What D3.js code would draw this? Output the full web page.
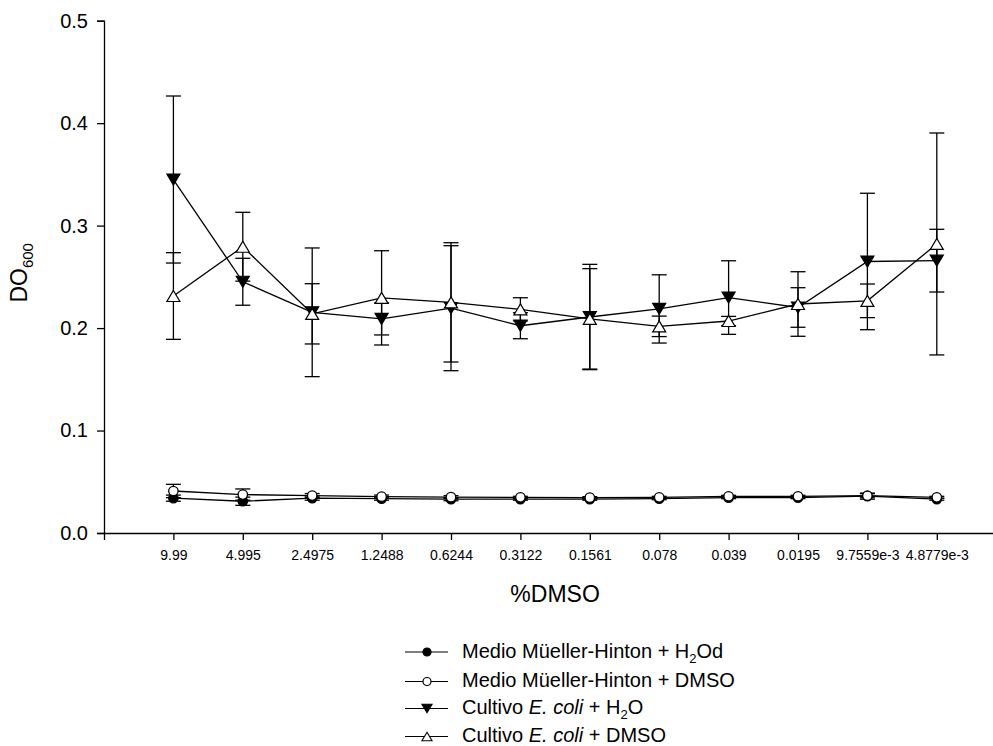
<!DOCTYPE html>
<html>
<head>
<meta charset="utf-8">
<script src="https://cdn.jsdelivr.net/npm/d3@7"></script>
<style>
  html, body { margin: 0; padding: 0; background: #fff; }
  svg { display: block; font-family: "Liberation Sans", Arial, sans-serif; }
</style>
</head>
<body>
<svg id="chart" width="993" height="746"></svg>
<script>
// %DMSO dilution series (category labels along the x axis)
const dmsoLabels = ["9.99", "4.995", "2.4975", "1.2488", "0.6244", "0.3122",
                    "0.1561", "0.078", "0.039", "0.0195", "9.7559e-3", "4.8779e-3"];

// Medio Müeller-Hinton + H2Od (filled circles)
const mhWater    = [0.034, 0.031, 0.034, 0.0335, 0.033, 0.033, 0.033, 0.0335, 0.0345, 0.0345, 0.036, 0.033];
const mhWaterErr = [0.003, 0.004, 0.002, 0.0015, 0.0015, 0.001, 0.001, 0.001, 0.001, 0.001, 0.003, 0.001];

// Medio Müeller-Hinton + DMSO (open circles)
const mhDmso     = [0.041, 0.0375, 0.0365, 0.0355, 0.035, 0.0348, 0.0345, 0.0348, 0.0358, 0.0358, 0.0364, 0.0348];
const mhDmsoErr  = [0.0065, 0.0055, 0.002, 0.0015, 0.0015, 0.001, 0.001, 0.001, 0.001, 0.001, 0.002, 0.001];

// Cultivo E. coli + H2O (filled down triangles)
const ecWater    = [0.345, 0.2452, 0.2154, 0.2089, 0.2194, 0.2023, 0.2108, 0.2187, 0.2298, 0.2201, 0.265, 0.2658];
const ecWaterErr = [0.0815, 0.0229, 0.0628, 0.0156, 0.061, 0.0127, 0.0514, 0.0333, 0.0359, 0.0193, 0.0666, 0.0306];

// Cultivo E. coli + DMSO (open up triangles)
const ecDmso     = [0.2313, 0.2794, 0.2139, 0.2295, 0.2251, 0.2183, 0.209, 0.2017, 0.2069, 0.2235, 0.2266, 0.2821];
const ecDmsoErr  = [0.0423, 0.0336, 0.0294, 0.046, 0.0582, 0.0113, 0.049, 0.01, 0.0045, 0.0315, 0.0164, 0.1083];

const yTicks = [0, 0.1, 0.2, 0.3, 0.4, 0.5];

const svg = d3.select("#chart");

// category positions 1..12; the axis runs from 0 to 13 category steps
const x = d3.scaleLinear().domain([0, 13]).range([104, 1006.2]);
const y = d3.scaleLinear().domain([0, 0.5]).range([533, 20.7]);

// ---- axes ----
const yAxis = d3.axisLeft(y)
  .tickValues(yTicks)
  .tickFormat(d3.format(".1f"))
  .tickSizeOuter(0)
  .tickSize(7)
  .tickPadding(9);

const gy = svg.append("g").attr("transform", `translate(${x(0)},0)`).call(yAxis);
gy.select(".domain").attr("stroke", "#000").attr("stroke-width", 1.3);
gy.selectAll(".tick line").attr("stroke", "#000").attr("stroke-width", 1.3);
gy.selectAll(".tick text")
  .attr("fill", "#000")
  .style("font-size", "20px")
  .style("font-family", "'Liberation Sans', Arial, sans-serif");

const xAxis = d3.axisBottom(x)
  .tickValues(d3.range(1, dmsoLabels.length + 1))
  .tickFormat(i => dmsoLabels[i - 1])
  .tickSizeOuter(0)
  .tickSize(7)
  .tickPadding(10);

const gx = svg.append("g").attr("transform", `translate(0,${y(0)})`).call(xAxis);
gx.select(".domain").attr("stroke", "#000").attr("stroke-width", 1.3);
gx.selectAll(".tick line").attr("stroke", "#000").attr("stroke-width", 1.3);
gx.selectAll(".tick text")
  .attr("fill", "#000")
  .style("font-size", "14px")
  .style("font-family", "'Liberation Sans', Arial, sans-serif");

// axis titles, centred on their axes
svg.append("text")
  .attr("x", (x.range()[0] + x.range()[1]) / 2).attr("y", 602)
  .attr("text-anchor", "middle")
  .style("font-size", "23px")
  .text("%DMSO");

const yTitle = svg.append("text")
  .attr("transform", `translate(27,${(y.range()[0] + y.range()[1]) / 2 - 4}) rotate(-90)`)
  .attr("text-anchor", "middle")
  .style("font-size", "23px");
yTitle.append("tspan").text("DO");
yTitle.append("tspan").attr("dy", 6).style("font-size", "15px").text("600");

// ---- marker shapes ----
function markerPath(kind, s) {
  s = s || 1;
  if (kind === "up")   return `M0,${-5.5*s}L${6.5*s},${5.5*s}L${-6.5*s},${5.5*s}Z`;
  if (kind === "down") return `M${-6.5*s},${-5.5*s}L${6.5*s},${-5.5*s}L0,${5.5*s}Z`;
  return null;
}

const series = [
  { name: "mhWater", values: mhWater, err: mhWaterErr, kind: "circle", fill: "#000" },
  { name: "mhDmso",  values: mhDmso,  err: mhDmsoErr,  kind: "circle", fill: "#fff" },
  { name: "ecWater", values: ecWater, err: ecWaterErr, kind: "down",   fill: "#000" },
  { name: "ecDmso",  values: ecDmso,  err: ecDmsoErr,  kind: "up",     fill: "#fff" }
];

const line = d3.line().x((d, i) => x(i + 1)).y(d => y(d));
const capHalf = 7.5;

series.forEach(s => {
  const g = svg.append("g").attr("class", s.name);

  // error bars
  const eb = g.selectAll(".err").data(s.values).enter().append("g").attr("class", "err");
  eb.append("line")
    .attr("x1", (d, i) => x(i + 1)).attr("x2", (d, i) => x(i + 1))
    .attr("y1", (d, i) => y(d + s.err[i])).attr("y2", (d, i) => y(d - s.err[i]))
    .attr("stroke", "#000").attr("stroke-width", 1.3);
  eb.append("line")
    .attr("x1", (d, i) => x(i + 1) - capHalf).attr("x2", (d, i) => x(i + 1) + capHalf)
    .attr("y1", (d, i) => y(d + s.err[i])).attr("y2", (d, i) => y(d + s.err[i]))
    .attr("stroke", "#000").attr("stroke-width", 1.3);
  eb.append("line")
    .attr("x1", (d, i) => x(i + 1) - capHalf).attr("x2", (d, i) => x(i + 1) + capHalf)
    .attr("y1", (d, i) => y(d - s.err[i])).attr("y2", (d, i) => y(d - s.err[i]))
    .attr("stroke", "#000").attr("stroke-width", 1.3);

  // connecting line
  g.append("path")
    .datum(s.values)
    .attr("d", line)
    .attr("fill", "none")
    .attr("stroke", "#000")
    .attr("stroke-width", 1.3);

  // markers
  if (s.kind === "circle") {
    g.selectAll(".pt").data(s.values).enter().append("circle")
      .attr("cx", (d, i) => x(i + 1)).attr("cy", d => y(d))
      .attr("r", 4.7)
      .attr("fill", s.fill).attr("stroke", "#000").attr("stroke-width", 1.3);
  } else {
    g.selectAll(".pt").data(s.values).enter().append("path")
      .attr("transform", (d, i) => `translate(${x(i + 1)},${y(d)})`)
      .attr("d", markerPath(s.kind))
      .attr("fill", s.fill).attr("stroke", "#000").attr("stroke-width", 1.2);
  }
});

// ---- legend ----
const legendRows = [
  { kind: "circle", fill: "#000", ly: 652,   ty: 657.5 },
  { kind: "circle", fill: "#fff", ly: 681.5, ty: 687 },
  { kind: "down",   fill: "#000", ly: 708.5, ty: 714 },
  { kind: "up",     fill: "#fff", ly: 736.5, ty: 742 }
];

const lg = svg.append("g").attr("class", "legend").style("font-size", "20px");

legendRows.forEach((r, k) => {
  lg.append("line")
    .attr("x1", 405).attr("x2", 448).attr("y1", r.ly).attr("y2", r.ly)
    .attr("stroke", "#000").attr("stroke-width", 1.2);
  if (r.kind === "circle") {
    lg.append("circle").attr("cx", 427).attr("cy", r.ly).attr("r", 4)
      .attr("fill", r.fill).attr("stroke", "#000").attr("stroke-width", 1.2);
  } else {
    lg.append("path").attr("transform", `translate(427,${r.ly})`)
      .attr("d", markerPath(r.kind, 0.78))
      .attr("fill", r.fill).attr("stroke", "#000").attr("stroke-width", 1.1);
  }
  const t = lg.append("text").attr("x", 462).attr("y", r.ty);
  if (k === 0) {
    t.append("tspan").text("Medio Müeller-Hinton + H");
    t.append("tspan").attr("dy", 5).style("font-size", "13px").text("2");
    t.append("tspan").attr("dy", -5).text("Od");
  } else if (k === 1) {
    t.append("tspan").text("Medio Müeller-Hinton + DMSO");
  } else if (k === 2) {
    t.append("tspan").text("Cultivo ");
    t.append("tspan").style("font-style", "italic").text("E. coli");
    t.append("tspan").text(" + H");
    t.append("tspan").attr("dy", 5).style("font-size", "13px").text("2");
    t.append("tspan").attr("dy", -5).text("O");
  } else {
    t.append("tspan").text("Cultivo ");
    t.append("tspan").style("font-style", "italic").text("E. coli");
    t.append("tspan").text(" + DMSO");
  }
});
</script>
</body>
</html>
